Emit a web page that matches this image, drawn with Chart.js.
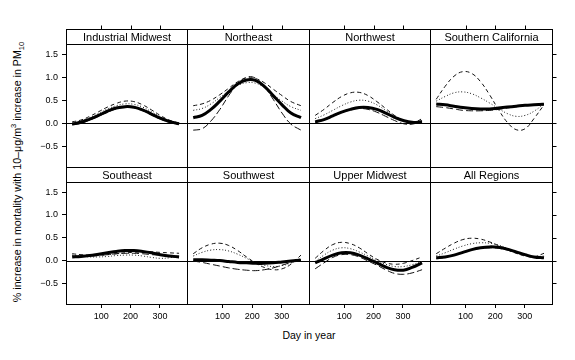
<!DOCTYPE html>
<html>
<head>
<meta charset="utf-8">
<script src="https://cdn.jsdelivr.net/npm/chart.js@4.4.1/dist/chart.umd.min.js"></script>
<style>
body { margin: 0; background: #fff; width: 575px; height: 360px; position: relative; overflow: hidden;
       font-family: "Liberation Sans", Arial, sans-serif; }
canvas { position: absolute; }
#ytitle { position: absolute; left: 17px; top: 172px; transform: translate(-50%, -50%) rotate(-90deg);
          white-space: nowrap; font-size: 10.7px; line-height: 1; }
#ytitle sup, #ytitle sub { font-size: 7.5px; line-height: 0; }
#xtitle { position: absolute; left: 309px; top: 335px; transform: translate(-50%, -50%); font-size: 10.5px; }
</style>
</head>
<body>
<div id="ytitle">% increase in mortality with 10–μg/m<sup>3</sup> increase in PM<sub>10</sub></div>
<div id="xtitle">Day in year</div>
<script>
// panels, in lattice order (top row then bottom row)
const regions = ['Industrial Midwest', 'Northeast', 'Northwest', 'Southern California',
                 'Southeast', 'Southwest', 'Upper Midwest', 'All Regions'];
const days = [1, 31, 61, 91, 121, 151, 181, 211, 241, 271, 301, 331, 365];
const xTicks = [100, 200, 300];
const yTicks = [-0.5, 0, 0.5, 1.0, 1.5];

// thick solid curve, one row per region
const mainFit = [
  [-0.02, 0.02, 0.09, 0.17, 0.26, 0.33, 0.36, 0.35, 0.29, 0.20, 0.11, 0.04, -0.01],
  [0.12, 0.17, 0.30, 0.48, 0.68, 0.85, 0.94, 0.93, 0.80, 0.60, 0.40, 0.22, 0.12],
  [0.03, 0.08, 0.16, 0.24, 0.30, 0.34, 0.34, 0.30, 0.22, 0.13, 0.06, 0.02, 0.03],
  [0.42, 0.40, 0.37, 0.34, 0.32, 0.31, 0.31, 0.33, 0.35, 0.37, 0.39, 0.40, 0.41],
  [0.08, 0.09, 0.11, 0.14, 0.17, 0.20, 0.22, 0.22, 0.20, 0.17, 0.13, 0.10, 0.08],
  [0.02, 0.02, 0.01, 0.00, -0.02, -0.04, -0.05, -0.06, -0.06, -0.05, -0.03, -0.01, 0.01],
  [-0.05, 0.04, 0.12, 0.17, 0.17, 0.12, 0.04, -0.05, -0.14, -0.20, -0.21, -0.15, -0.05],
  [0.06, 0.08, 0.12, 0.18, 0.24, 0.28, 0.30, 0.29, 0.25, 0.19, 0.13, 0.08, 0.06]
];
// short dashes
const dashedFit = [
  [0.03, 0.07, 0.15, 0.25, 0.35, 0.43, 0.48, 0.47, 0.40, 0.29, 0.17, 0.07, 0.00],
  [0.38, 0.42, 0.50, 0.62, 0.76, 0.90, 0.98, 0.97, 0.88, 0.74, 0.60, 0.47, 0.38],
  [0.17, 0.30, 0.45, 0.58, 0.66, 0.67, 0.60, 0.47, 0.32, 0.17, 0.06, 0.00, 0.10],
  [0.52, 0.80, 1.02, 1.12, 1.08, 0.90, 0.62, 0.30, 0.02, -0.14, -0.12, 0.10, 0.40],
  [0.15, 0.13, 0.12, 0.12, 0.13, 0.15, 0.17, 0.18, 0.19, 0.19, 0.18, 0.17, 0.16],
  [0.15, 0.28, 0.36, 0.38, 0.33, 0.22, 0.08, -0.05, -0.15, -0.20, -0.18, -0.08, 0.12],
  [0.05, 0.22, 0.35, 0.40, 0.37, 0.28, 0.15, 0.03, -0.05, -0.08, -0.06, 0.00, 0.08],
  [0.15, 0.27, 0.38, 0.46, 0.49, 0.47, 0.41, 0.33, 0.24, 0.16, 0.10, 0.08, 0.16]
];
// dotted
const dottedFit = [
  [0.00, 0.05, 0.12, 0.21, 0.31, 0.38, 0.42, 0.41, 0.35, 0.25, 0.14, 0.05, -0.01],
  [0.28, 0.32, 0.42, 0.56, 0.70, 0.82, 0.88, 0.87, 0.78, 0.62, 0.48, 0.36, 0.28],
  [0.10, 0.18, 0.28, 0.38, 0.46, 0.50, 0.48, 0.40, 0.28, 0.16, 0.07, 0.02, 0.06],
  [0.48, 0.58, 0.66, 0.68, 0.64, 0.55, 0.44, 0.32, 0.21, 0.15, 0.17, 0.26, 0.42],
  [0.12, 0.10, 0.08, 0.08, 0.09, 0.11, 0.12, 0.12, 0.10, 0.07, 0.05, 0.06, 0.10],
  [0.10, 0.18, 0.23, 0.24, 0.21, 0.14, 0.05, -0.04, -0.10, -0.13, -0.11, -0.05, 0.06],
  [-0.02, 0.12, 0.23, 0.28, 0.26, 0.19, 0.10, 0.00, -0.08, -0.13, -0.13, -0.09, -0.02],
  [0.10, 0.17, 0.25, 0.32, 0.37, 0.39, 0.38, 0.34, 0.27, 0.19, 0.12, 0.08, 0.10]
];
// long dashes
const longDashFit = [
  [-0.03, 0.00, 0.07, 0.15, 0.24, 0.31, 0.34, 0.33, 0.27, 0.18, 0.09, 0.02, -0.02],
  [-0.15, -0.12, 0.05, 0.30, 0.60, 0.85, 1.00, 0.98, 0.80, 0.52, 0.22, -0.02, -0.15],
  [0.02, 0.07, 0.15, 0.23, 0.29, 0.32, 0.30, 0.24, 0.15, 0.06, -0.01, -0.02, 0.05],
  [0.36, 0.34, 0.31, 0.28, 0.27, 0.27, 0.28, 0.30, 0.33, 0.36, 0.38, 0.40, 0.44],
  [0.10, 0.10, 0.10, 0.11, 0.13, 0.15, 0.16, 0.16, 0.15, 0.13, 0.12, 0.11, 0.10],
  [-0.01, -0.04, -0.08, -0.12, -0.16, -0.19, -0.21, -0.22, -0.20, -0.16, -0.10, -0.04, 0.02],
  [-0.18, -0.05, 0.07, 0.13, 0.13, 0.08, -0.01, -0.10, -0.20, -0.28, -0.30, -0.27, -0.20],
  [0.04, 0.07, 0.12, 0.18, 0.23, 0.27, 0.28, 0.27, 0.23, 0.17, 0.11, 0.07, 0.06]
];

// page layout of the lattice
const colX = [66, 187, 309, 430, 552];
const rowTop = [44, 182];
const rowBottom = [167, 304];
const stripH = 15;

const panelDecor = {
  id: 'panelDecor',
  beforeDatasetsDraw(chart) {
    const { ctx, chartArea: a, scales } = chart;
    const y0 = Math.round(scales.y.getPixelForValue(0)) + 0.5;
    ctx.save();
    ctx.strokeStyle = '#000';
    ctx.lineWidth = 1;
    ctx.beginPath();
    ctx.moveTo(a.left, y0);
    ctx.lineTo(a.right, y0);
    ctx.stroke();
    ctx.restore();
  },
  afterDraw(chart, args, opts) {
    const { ctx, chartArea: a, scales } = chart;
    ctx.save();
    ctx.strokeStyle = '#000';
    ctx.lineWidth = 1;
    // panel frame
    ctx.strokeRect(a.left + 0.5, a.top + 0.5, a.right - a.left, a.bottom - a.top);
    // strip
    const st = a.top - stripH;
    ctx.fillStyle = '#fff';
    ctx.fillRect(a.left + 0.5, st + 0.5, a.right - a.left, stripH);
    ctx.strokeRect(a.left + 0.5, st + 0.5, a.right - a.left, stripH);
    ctx.fillStyle = '#000';
    ctx.font = '11px "Liberation Sans", Arial, sans-serif';
    ctx.textAlign = 'center';
    ctx.textBaseline = 'middle';
    ctx.fillText(opts.label, (a.left + a.right) / 2 + 0.5, st + stripH / 2 + 1);
    // top ticks over the strips, right ticks on the last column
    ctx.beginPath();
    if (opts.top) {
      xTicks.forEach(v => {
        const x = Math.round(scales.x.getPixelForValue(v)) + 0.5;
        ctx.moveTo(x, st + 0.5);
        ctx.lineTo(x, st - 3.5);
      });
    }
    if (opts.right) {
      yTicks.forEach(v => {
        const y = Math.round(scales.y.getPixelForValue(v)) + 0.5;
        ctx.moveTo(a.right + 0.5, y);
        ctx.lineTo(a.right + 4.5, y);
      });
    }
    ctx.stroke();
    ctx.restore();
  }
};

function line(data, width, dash, color) {
  return {
    data: days.map((d, i) => ({ x: d, y: data[i] })),
    borderColor: color,
    borderWidth: width,
    borderDash: dash,
    pointRadius: 0,
    tension: 0.4,
    fill: false
  };
}

regions.forEach((name, k) => {
  const r = Math.floor(k / 4), c = k % 4;
  const L = c === 0 ? 50 : 8;
  const R = 8;
  const T = stripH + 8;
  const B = r === 1 ? 34 : 16;
  const w = colX[c + 1] - colX[c] + L + R;
  const h = rowBottom[r] - rowTop[r] + T + B;

  const canvas = document.createElement('canvas');
  canvas.width = w;
  canvas.height = h;
  canvas.style.left = (colX[c] - L) + 'px';
  canvas.style.top = (rowTop[r] - T) + 'px';
  canvas.style.width = w + 'px';
  canvas.style.height = h + 'px';
  document.body.appendChild(canvas);

  new Chart(canvas, {
    type: 'line',
    data: {
      datasets: [
        line(mainFit[k], 3, [], '#000'),
        line(dashedFit[k], 1, [4, 3], '#111'),
        line(dottedFit[k], 1, [1, 2], '#222'),
        line(longDashFit[k], 1, [7, 3], '#111')
      ]
    },
    options: {
      responsive: false,
      animation: false,
      events: [],
      layout: { padding: { left: c === 0 ? 0 : L, right: R, top: T, bottom: r === 1 ? 0 : B } },
      plugins: {
        legend: { display: false },
        tooltip: { enabled: false },
        panelDecor: { label: name, top: r === 0, right: c === 3 }
      },
      scales: {
        x: {
          type: 'linear',
          min: -20,
          max: 392,
          display: r === 1,
          afterBuildTicks: s => { s.ticks = xTicks.map(v => ({ value: v })); },
          afterFit: s => { if (r === 1) s.height = B; },
          border: { display: false },
          grid: { drawOnChartArea: false, drawTicks: true, tickLength: 4, color: '#000' },
          ticks: { font: { size: 9, family: '"Liberation Sans", Arial, sans-serif' }, color: '#000',
                   padding: 3, maxRotation: 0 }
        },
        y: {
          type: 'linear',
          min: -0.95,
          max: 1.72,
          display: c === 0,
          afterBuildTicks: s => { s.ticks = yTicks.map(v => ({ value: v })); },
          afterFit: s => { if (c === 0) s.width = L; },
          border: { display: false },
          grid: { drawOnChartArea: false, drawTicks: true, tickLength: 4, color: '#000' },
          ticks: { font: { size: 9, family: '"Liberation Sans", Arial, sans-serif' }, color: '#000',
                   padding: 4, callback: v => (v < 0 ? '−' : '') + Math.abs(v).toFixed(1) }
        }
      }
    },
    plugins: [panelDecor]
  });
});
</script>
</body>
</html>
